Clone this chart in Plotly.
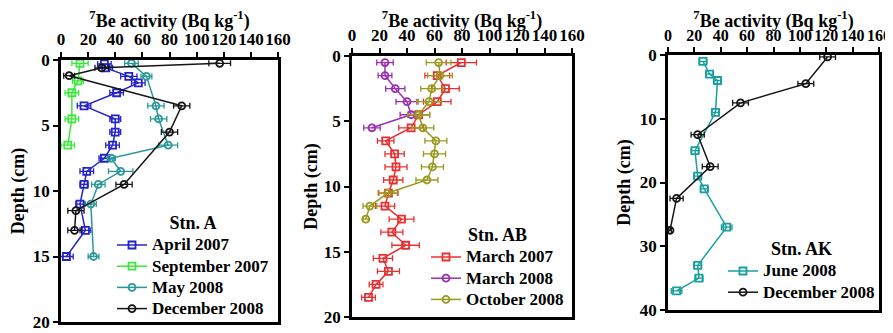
import plotly.graph_objects as go

# ---------------- Data ----------------
# Station A
depth_A_apr = [0.3, 0.6, 1.25, 1.75, 2.5, 3.5, 4.5, 5.5, 6.5, 7.5, 8.5, 9.5, 11.0, 13.0, 15.0]
be_A_apr = [32, 33, 50, 57, 41, 17, 40, 40, 38, 32, 19, 17, 14, 18, 4]
err_A_apr = [5, 5, 6, 5, 5, 5, 4, 4, 5, 4, 5, 3, 3, 4, 5]

depth_A_sep = [0.25, 1.6, 2.5, 4.5, 6.5]
be_A_sep = [14, 12.5, 8, 8, 5]
err_A_sep = [6, 4, 5, 5, 5]

depth_A_may = [0.25, 1.25, 3.5, 4.5, 6.5, 7.5, 8.5, 9.5, 11.0, 15.0]
be_A_may = [52, 63, 70, 72, 79, 37, 44, 27.5, 22, 24]
err_A_may = [5, 4, 6, 6, 7, 3, 9, 5, 4, 4]

depth_A_dec = [0.25, 0.6, 1.2, 3.5, 5.5, 9.5, 11.5, 13.0]
be_A_dec = [117, 30, 6, 89, 80, 46.5, 11, 10]
err_A_dec = [8, 5, 4, 6, 6, 6, 6, 5]

# Station AB
depth_AB_mar07 = [0.5, 1.5, 2.5, 3.5, 4.5, 5.5, 6.5, 7.5, 8.5, 9.5, 10.5, 11.5, 12.5, 13.5, 14.5, 15.5, 16.5, 17.5, 18.5]
be_AB_mar07 = [79.5, 62, 68, 62, 48.5, 43, 24.5, 31, 32, 30, 26.5, 24, 36, 29, 39, 22.5, 26.5, 17.5, 12]
err_AB_mar07 = [11, 9, 10, 10, 8, 9, 6, 7, 8, 7, 7, 7, 9, 8, 10, 7, 8, 5, 5]

depth_AB_mar08 = [0.5, 1.5, 2.5, 3.5, 4.5, 5.5]
be_AB_mar08 = [24, 24, 31.5, 40, 43, 14.5]
err_AB_mar08 = [6, 5, 7, 8, 8, 6]

depth_AB_oct08 = [0.5, 1.5, 2.5, 3.5, 4.5, 5.5, 6.5, 7.5, 8.5, 9.5, 10.5, 11.5, 12.5]
be_AB_oct08 = [63, 64, 58, 56, 48.5, 51.5, 61, 60, 58.5, 54.5, 26, 13, 10]
err_AB_oct08 = [9, 9, 8, 9, 8, 8, 8, 8, 8, 8, 7, 5, 2]

# Station AK
depth_AK_jun = [1, 3, 4, 9, 15, 19, 21, 27, 33, 35, 37]
be_AK_jun = [26.5, 31.5, 37.5, 36, 20.5, 22.5, 27.5, 44.5, 22.5, 23.5, 6.5]
err_AK_jun = [3, 3, 3, 3, 3, 3, 3, 4, 3, 3, 4]

depth_AK_dec = [0.3, 4.5, 7.5, 12.5, 17.5, 22.5, 27.5]
be_AK_dec = [121, 104.5, 55, 22.5, 32, 6.5, 1.5]
err_AK_dec = [6, 6, 6, 5, 6, 5, 1]

x_ticks = [0, 20, 40, 60, 80, 100, 120, 140, 160]

FONT = "Liberation Serif"
OFF = 8                      # page body margin of the browser
W, H = 893 - OFF, 333 - OFF  # figure size so that it fills the window

fig = go.Figure()

def add(x, y, e, name, color, symbol, xa, ya, legend):
    fig.add_trace(go.Scatter(
        x=x, y=y, name='<span style="font-size:17px">' + name + '</span>', mode="lines+markers",
        xaxis=xa, yaxis=ya, legend=legend,
        line=dict(color=color, width=1.5),
        marker=dict(symbol=symbol, size=7, color=color, line=dict(color=color, width=1.8)),
        error_x=dict(type="data", array=e, visible=True, color=color, thickness=1.3, width=3),
    ))

add(be_A_apr, depth_A_apr, err_A_apr, "April 2007", "#2323c8", "square-open", "x", "y", "legend")
add(be_A_sep, depth_A_sep, err_A_sep, "September 2007", "#3ce83c", "square-open", "x", "y", "legend")
add(be_A_may, depth_A_may, err_A_may, "May 2008", "#2a9898", "circle-open", "x", "y", "legend")
add(be_A_dec, depth_A_dec, err_A_dec, "December 2008", "#151515", "circle-open", "x", "y", "legend")

add(be_AB_mar07, depth_AB_mar07, err_AB_mar07, "March 2007", "#e83030", "square-open", "x2", "y2", "legend2")
add(be_AB_mar08, depth_AB_mar08, err_AB_mar08, "March 2008", "#9a30b0", "circle-open", "x2", "y2", "legend2")
add(be_AB_oct08, depth_AB_oct08, err_AB_oct08, "October 2008", "#9a9a20", "circle-open", "x2", "y2", "legend2")

add(be_AK_jun, depth_AK_jun, err_AK_jun, "June 2008", "#1a9fa0", "square-open", "x3", "y3", "legend3")
add(be_AK_dec, depth_AK_dec, err_AK_dec, "December 2008", "#151515", "circle-open", "x3", "y3", "legend3")

# helpers: convert window pixel positions to paper fractions
def px_x(p):
    return (p - OFF) / W

def px_y(p):
    return 1 - (p - OFF) / H

titlefont = dict(family=FONT, size=18, color="black")

def xaxis(x0, x1, anchor, fs, standoff):
    return dict(domain=[px_x(x0), px_x(x1)], range=[0, 160], side="top", anchor=anchor,
                tickvals=x_ticks, tickangle=0, ticks="outside", ticklen=5, tickwidth=2, tickcolor="black",
                showline=True, linewidth=2.5, linecolor="black", mirror=True, automargin=False,
                showgrid=False, zeroline=False, tickfont=dict(family=FONT, size=fs, color="black"),
                title=dict(text="<b><sup>7</sup>Be activity (Bq kg<sup>-1</sup>)</b>", font=titlefont, standoff=standoff))

def yaxis(y0, y1, rng, dtick, anchor, standoff):
    return dict(domain=[px_y(y1), px_y(y0)], range=rng, anchor=anchor,
                dtick=dtick, ticks="outside", ticklen=5, tickwidth=2, tickcolor="black",
                showline=True, linewidth=2.5, linecolor="black", mirror=True, automargin=False,
                showgrid=False, zeroline=False, tickfont=dict(family=FONT, size=17, color="black"),
                title=dict(text="<b>Depth (cm)</b>", font=titlefont, standoff=standoff))

def legend(x, y, title):
    return dict(x=px_x(x), y=px_y(y), xanchor="left", yanchor="top",
                bgcolor="rgba(0,0,0,0)", font=dict(family=FONT, size=14, color="black"),
                title=dict(text="<b>" + title + "</b>", side="top center",
                           font=dict(family=FONT, size=18, color="black")),
                tracegroupgap=0, itemwidth=30)

fig.update_layout(
    width=W, height=H, margin=dict(l=0, r=0, t=0, b=0, autoexpand=False),
    paper_bgcolor="white", plot_bgcolor="white",
    font=dict(family=FONT, color="black", size=15, weight="bold"),
    showlegend=True,
    xaxis=xaxis(61, 278, "y", 17, 0), yaxis=yaxis(60, 322, [20, 0], 5, "x", 11),
    xaxis2=xaxis(352, 572, "y2", 17, 0), yaxis2=yaxis(56, 317, [20, 0], 5, "x2", 2),
    xaxis3=xaxis(668, 879, "y3", 16, 2), yaxis3=yaxis(55, 310, [40, 0], 10, "x3", 5),
    legend=legend(112, 206, "Stn. A"),
    legend2=legend(426, 218, "Stn. AB"),
    legend3=legend(723, 232, "Stn. AK"),
)

fig.write_html("out.html")
